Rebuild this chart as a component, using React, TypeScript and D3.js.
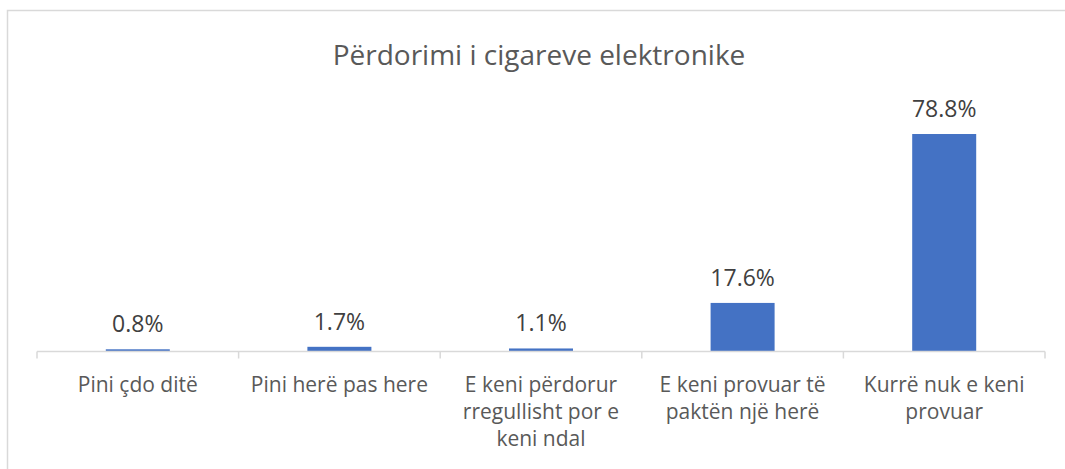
import React, { useEffect, useRef } from 'react';
import * as d3 from 'd3';

const title = 'Përdorimi i cigareve elektronike';
const categories = [
  ['Pini çdo ditë'],
  ['Pini herë pas here'],
  ['E keni përdorur', 'rregullisht por e', 'keni ndal'],
  ['E keni provuar të', 'paktën një herë'],
  ['Kurrë nuk e keni', 'provuar'],
];
const values = [0.8, 1.7, 1.1, 17.6, 78.8];

const W = 1065;
const H = 469;
const FONT = '"Open Sans", sans-serif';

const App: React.FC = () => {
  const svgRef = useRef<SVGSVGElement>(null);

  useEffect(() => {
    if (!svgRef.current) return;
    const svg = d3.select(svgRef.current);
    svg.selectAll('*').remove();

    const left = 37, right = 1045, baseY = 351.5;
    const x = d3.scaleBand<number>().domain(d3.range(values.length)).range([left, right]).paddingInner(0).paddingOuter(0);
    const y = d3.scaleLinear().domain([0, 90]).range([baseY, baseY - 90 * 2.76]);

    // chart border
    svg.append('rect')
      .attr('x', 7.5).attr('y', 10.5)
      .attr('width', W).attr('height', H)
      .attr('fill', '#fff').attr('stroke', '#d9d9d9').attr('stroke-width', 1.5);

    svg.append('text')
      .attr('x', 539).attr('y', 65)
      .attr('text-anchor', 'middle')
      .attr('font-family', FONT).attr('font-size', 28)
      .attr('fill', '#595959')
      .text(title);

    const barW = 64;
    svg.selectAll('rect.bar')
      .data(values)
      .enter()
      .append('rect')
      .attr('class', 'bar')
      .attr('x', (_, i) => x(i)! + x.bandwidth() / 2 - barW / 2)
      .attr('y', d => y(d))
      .attr('width', barW)
      .attr('height', d => baseY - y(d))
      .attr('fill', '#4472c4');

    svg.selectAll('text.val')
      .data(values)
      .enter()
      .append('text')
      .attr('class', 'val')
      .attr('x', (_, i) => x(i)! + x.bandwidth() / 2)
      .attr('y', d => y(d) - 17)
      .attr('text-anchor', 'middle')
      .attr('font-family', FONT).attr('font-size', 23)
      .attr('fill', '#404040')
      .text(d => d.toFixed(1) + '%');

    // axis line and ticks
    const axis = svg.append('g').attr('stroke', '#d9d9d9').attr('stroke-width', 1.5);
    axis.append('line').attr('x1', left).attr('x2', right).attr('y1', baseY).attr('y2', baseY);
    d3.range(values.length + 1).forEach(i => {
      const tx = i < values.length ? x(i)! : right;
      axis.append('line').attr('x1', tx).attr('x2', tx).attr('y1', baseY).attr('y2', baseY + 7);
    });

    categories.forEach((lines, i) => {
      const t = svg.append('text')
        .attr('text-anchor', 'middle')
        .attr('font-family', FONT).attr('font-size', 21)
        .attr('fill', '#595959');
      lines.forEach((ln, j) => {
        t.append('tspan')
          .attr('x', x(i)! + x.bandwidth() / 2)
          .attr('y', 392 + j * 27)
          .text(ln);
      });
    });
  }, []);

  return (
    <div style={{ position: 'absolute', left: 0, top: 0 }}>
      <svg ref={svgRef} width={W} height={H} style={{ display: 'block' }} />
    </div>
  );
};

export default App;
